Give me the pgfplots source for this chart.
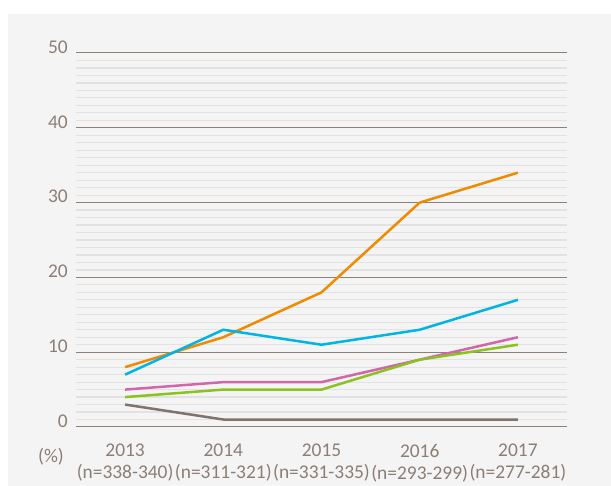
\documentclass[border=0pt]{standalone}
\usepackage{fontspec}
\setmainfont{Carlito}
\usepackage{pgfplots}
\pgfplotsset{compat=1.18}
\definecolor{bg}{HTML}{F4F4F4}
\definecolor{txt}{HTML}{8B7F75}
\definecolor{majgrid}{HTML}{8C8077}
\definecolor{mingrid}{HTML}{E2E2E2}
\definecolor{corange}{HTML}{F08A00}
\definecolor{cblue}{HTML}{00B4E6}
\definecolor{cpink}{HTML}{D265AC}
\definecolor{cgreen}{HTML}{8CC220}
\definecolor{cbrown}{HTML}{7F746B}
\begin{document}
\begin{tikzpicture}[x=1bp,y=1bp]
\path[use as bounding box] (0,0) rectangle (611,486);
\fill[bg] (8,0) rectangle (611,472);
\begin{axis}[
  at={(76bp,59bp)}, anchor=south west,
  scale only axis, width=491bp, height=374bp,
  xmin=-0.5, xmax=4.5, ymin=0, ymax=50,
  axis line style={draw=none},
  tick style={draw=none},
  ytick={0,10,20,30,40,50},
  minor y tick num=9,
  ymajorgrids, yminorgrids,
  major grid style={color=majgrid, line width=1bp},
  minor grid style={color=mingrid, line width=1.2bp},
  xtick={0,1,2,3,4},
  xticklabels={2013\\(n=338-340),2014\\(n=311-321),2015\\(n=331-335),2016\\(n=293-299),2017\\(n=277-281)},
  /pgf/number format/assume math mode=true,
  ticklabel style={font=\fontsize{19.5}{22}\selectfont, text=txt},
  yticklabel style={anchor=east, inner sep=0pt, xshift=-8bp, yshift=6bp},
  xticklabel style={align=center, anchor=north, inner sep=0pt, yshift=-17bp},
  clip=false,
]
\addplot[corange, line width=2.5bp] coordinates {(0,8)(1,12)(2,18)(3,30)(4,34)};
\addplot[cblue, line width=2.5bp] coordinates {(0,7)(1,13)(2,11)(3,13)(4,17)};
\addplot[cpink, line width=2.5bp] coordinates {(0,5)(1,6)(2,6)(3,9)(4,12)};
\addplot[cgreen, line width=2.5bp] coordinates {(0,4)(1,5)(2,5)(3,9)(4,11)};
\addplot[cbrown, line width=2.5bp] coordinates {(0,3)(1,1)(2,1)(3,1)(4,1)};
\end{axis}
\node[text=txt, font=\fontsize{19.5}{22}\selectfont, inner sep=0pt] at (51,29) {(\%)};
\end{tikzpicture}
\end{document}
